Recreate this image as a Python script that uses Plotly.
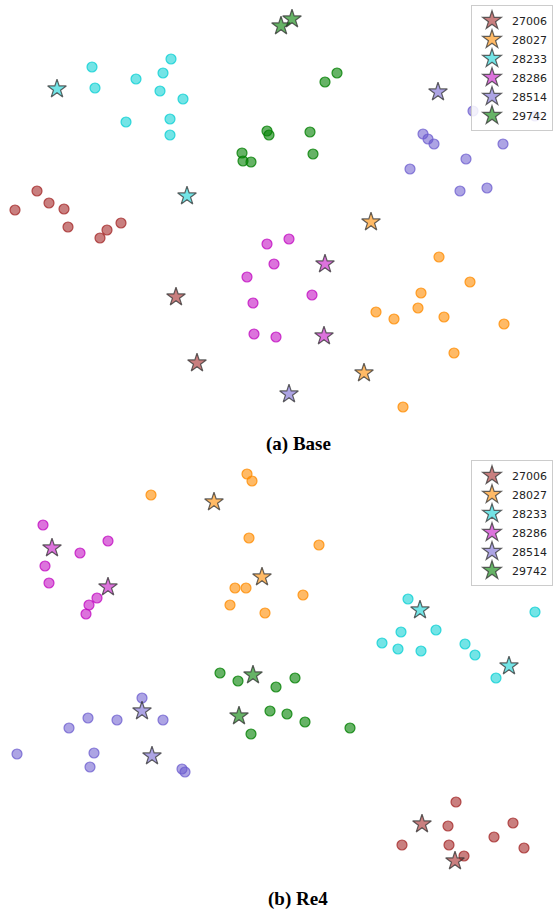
import plotly.graph_objects as go

classes = ["27006", "28027", "28233", "28286", "28514", "29742"]

# Panel (a) Base: embedding coordinates (y grows downward)
base_pts_x = {
    "27006": [37, 49, 64, 15, 68, 107, 100, 121],
    "28027": [439, 470, 421, 418, 376, 394, 444, 504, 454, 403],
    "28233": [92, 95, 136, 163, 171, 160, 183, 126, 170, 170],
    "28286": [267, 289, 274, 247, 253, 312, 254, 276],
    "28514": [473, 535, 423, 428, 434, 503, 466, 410, 460, 487],
    "29742": [267, 269, 242, 243, 251, 310, 313, 325, 337],
}
base_pts_y = {
    "27006": [191, 203, 209, 210, 227, 230, 238, 223],
    "28027": [257, 282, 293, 308, 312, 319, 317, 324, 353, 407],
    "28233": [67, 88, 79, 73, 59, 91, 99, 122, 119, 135],
    "28286": [244, 239, 264, 277, 303, 295, 334, 337],
    "28514": [111, 116, 134, 139, 144, 144, 159, 169, 191, 188],
    "29742": [131, 135, 153, 161, 162, 132, 154, 82, 73],
}
base_star_x = {
    "27006": [176, 197], "28027": [371, 364], "28233": [57, 187],
    "28286": [325, 324], "28514": [438, 289], "29742": [281, 292],
}
base_star_y = {
    "27006": [297, 363], "28027": [222, 373], "28233": [89, 196],
    "28286": [264, 336], "28514": [92, 394], "29742": [26, 19],
}

# Panel (b) Re4
re4_pts_x = {
    "27006": [456, 448, 513, 494, 402, 449, 524, 464],
    "28027": [247, 252, 151, 249, 235, 246, 230, 265, 319, 303],
    "28233": [408, 401, 436, 382, 398, 421, 465, 475, 535, 496],
    "28286": [43, 108, 80, 45, 49, 97, 89, 86],
    "28514": [142, 88, 117, 163, 69, 17, 94, 90, 182, 185],
    "29742": [220, 238, 276, 295, 270, 287, 305, 350, 251],
}
re4_pts_y = {
    "27006": [347, 371, 368, 382, 390, 390, 393, 401],
    "28027": [19, 26, 40, 83, 133, 133, 150, 158, 90, 140],
    "28233": [144, 177, 175, 188, 194, 196, 189, 200, 157, 223],
    "28286": [70, 86, 98, 111, 128, 143, 150, 159],
    "28514": [243, 263, 265, 265, 273, 299, 298, 312, 314, 317],
    "29742": [218, 226, 232, 223, 256, 259, 267, 273, 279],
}
re4_star_x = {
    "27006": [422, 455], "28027": [214, 262], "28233": [420, 509],
    "28286": [52, 108], "28514": [142, 152], "29742": [253, 239],
}
re4_star_y = {
    "27006": [369, 406], "28027": [47, 122], "28233": [155, 211],
    "28286": [93, 132], "28514": [256, 301], "29742": [220, 261],
}

panel_titles = ["(a) Base", "(b) Re4"]

rgb = {
    "27006": (165, 42, 42),
    "28027": (255, 140, 0),
    "28233": (0, 206, 209),
    "28286": (191, 0, 191),
    "28514": (106, 90, 205),
    "29742": (0, 128, 0),
}
alpha = {"27006": 0.6, "28027": 0.6, "28233": 0.55, "28286": 0.55, "28514": 0.55, "29742": 0.6}

W, H = 553, 911
fig = go.Figure()

panels = [
    (base_pts_x, base_pts_y, base_star_x, base_star_y, "x", "y", "legend"),
    (re4_pts_x, re4_pts_y, re4_star_x, re4_star_y, "x2", "y2", "legend2"),
]

for px, py, sx, sy, xa, ya, lg in panels:
    for c in classes:
        r, g, b = rgb[c]
        a = alpha[c]
        fig.add_trace(go.Scatter(
            x=px[c], y=py[c], mode="markers", xaxis=xa, yaxis=ya,
            showlegend=False, hoverinfo="skip",
            marker=dict(symbol="circle", size=10,
                        color=f"rgba({r},{g},{b},{a})",
                        line=dict(color=f"rgba({r},{g},{b},{min(1, a + 0.2)})", width=1.2)),
        ))
    for c in classes:
        r, g, b = rgb[c]
        a = alpha[c]
        fig.add_trace(go.Scatter(
            x=sx[c], y=sy[c], mode="markers", xaxis=xa, yaxis=ya,
            name=c, legend=lg, showlegend=True, hoverinfo="skip",
            marker=dict(symbol="star", size=14,
                        color=f"rgba({r},{g},{b},{a})",
                        line=dict(color="rgba(50,50,50,0.75)", width=1.2)),
        ))

# pixel layout of the two panels
a_top, a_bot = 0, 430
b_top, b_bot = 455, 885

def dom(top, bot):
    return [1 - bot / H, 1 - top / H]

ax_common = dict(visible=False, showgrid=False, zeroline=False)
legend_common = dict(x=1, xanchor="right", yanchor="top",
                     bgcolor="rgba(255,255,255,0.85)", bordercolor="#cccccc", borderwidth=1,
                     font=dict(family="DejaVu Sans", size=11, color="#222222"),
                     itemsizing="trace", tracegroupgap=0)
fig.update_layout(
    width=W, height=H,
    margin=dict(l=0, r=0, t=0, b=0),
    paper_bgcolor="white", plot_bgcolor="white",
    xaxis=dict(domain=[0, 1], range=[0, W], anchor="y", **ax_common),
    yaxis=dict(domain=dom(a_top, a_bot), range=[a_bot - a_top, 0], anchor="x", **ax_common),
    xaxis2=dict(domain=[0, 1], range=[0, W], anchor="y2", **ax_common),
    yaxis2=dict(domain=dom(b_top, b_bot), range=[b_bot - b_top, 0], anchor="x2", **ax_common),
    legend=dict(y=1 - 5 / H, **legend_common),
    legend2=dict(y=1 - 460 / H, **legend_common),
    annotations=[
        dict(text=f"<b>{panel_titles[0]}</b>", x=298 / W, y=1 - 444 / H, xref="paper", yref="paper",
             xanchor="center", yanchor="middle", showarrow=False,
             font=dict(family="Liberation Serif", size=19, color="black")),
        dict(text=f"<b>{panel_titles[1]}</b>", x=298 / W, y=1 - 899 / H, xref="paper", yref="paper",
             xanchor="center", yanchor="middle", showarrow=False,
             font=dict(family="Liberation Serif", size=19, color="black")),
    ],
)

fig.write_html(
    "out.html",
    config={"displayModeBar": False, "staticPlot": True},
    post_script="document.documentElement.style.margin='0';document.body.style.margin='0';"
                "document.body.style.overflow='hidden';",
)
